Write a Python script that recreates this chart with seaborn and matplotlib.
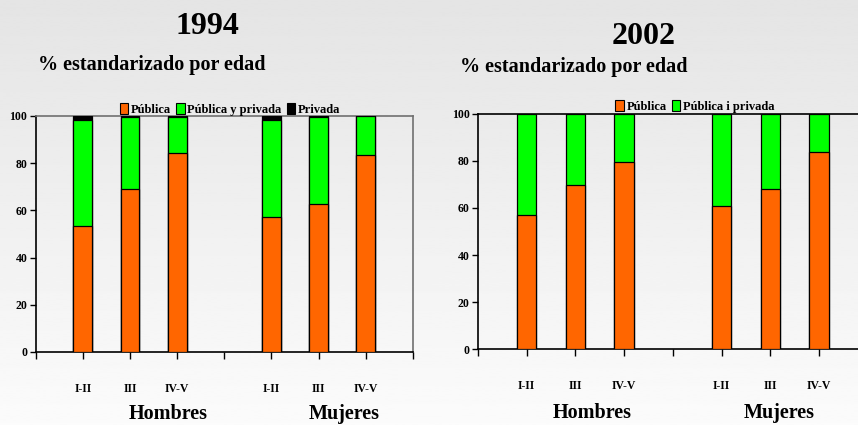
import numpy as np
import pandas as pd
import matplotlib
matplotlib.use("Agg")
import matplotlib.pyplot as plt
from matplotlib.patches import Patch
import seaborn as sns

sns.set_theme(style="white")
plt.rcParams["font.family"] = ["Liberation Serif", "DejaVu Serif"]
plt.rcParams["font.weight"] = "bold"
plt.rcParams["text.color"] = "black"
plt.rcParams["xtick.color"] = "black"
plt.rcParams["ytick.color"] = "black"

# Data: % standardised by age, type of health coverage by social class and sex
groups = ["Hombres", "Mujeres"]
classes = ["I-II", "III", "IV-V"]

pub_1994 = [53.4, 69.1, 84.2, 57.2, 62.6, 83.6]
pubpriv_1994 = [44.9, 30.4, 15.3, 41.1, 36.9, 16.2]
priv_1994 = [1.7, 0.5, 0.5, 1.7, 0.5, 0.2]

pub_2002 = [57.2, 69.8, 79.4, 60.7, 68.1, 83.7]
pubpriv_2002 = [42.8, 30.2, 20.6, 39.3, 31.9, 16.3]

ORANGE = "#ff6600"
GREEN = "#00ff00"
BLACK = "#000000"

# bar slots: three classes per sex, with an empty slot between the sexes
slots = [1, 2, 3, 5, 6, 7]
labels = classes + classes

fig = plt.figure(figsize=(8.58, 4.25), dpi=100)

# soft vertical grey gradient behind everything
bg = fig.add_axes([0, 0, 1, 1], zorder=-10)
grad = np.linspace(0.895, 0.985, 256).reshape(-1, 1)
bg.imshow(grad, aspect="auto", cmap="gray", vmin=0, vmax=1, extent=[0, 1, 0, 1])
bg.set_axis_off()


def stacked(ax, layers, colors):
    """layers: list of value lists, bottom first; drawn as cumulative overlays."""
    cum = np.cumsum(np.array(layers, dtype=float), axis=0)
    for i in range(len(layers) - 1, -1, -1):
        df = pd.DataFrame({"pos": slots, "val": cum[i]})
        sns.barplot(data=df, x="pos", y="val", native_scale=True, width=0.4,
                    color=colors[i], saturation=1, edgecolor="black",
                    linewidth=0.9, ax=ax, zorder=2 + (len(layers) - i))


def style(ax, spine_color):
    ax.set_facecolor("none")
    ax.set_xlim(0, 8)
    ax.set_ylim(0, 100)
    ax.set_xlabel("")
    ax.set_ylabel("")
    ax.set_yticks(range(0, 101, 20))
    ax.set_xticks(range(0, 9))
    ax.set_xticklabels([""] + labels[:3] + [""] + labels[3:] + [""])
    ax.tick_params(axis="x", length=5, width=1, color="black", pad=17,
                   labelsize=8.5, direction="out", bottom=True,
                   labelcolor="black")
    ax.tick_params(axis="y", length=4, width=1, color="black", pad=2,
                   labelsize=8.5, direction="out", left=True,
                   labelcolor="black")
    for s in ("left", "bottom"):
        ax.spines[s].set_color("black")
        ax.spines[s].set_linewidth(1.2)
    for s in ("top", "right"):
        ax.spines[s].set_color(spine_color)
        ax.spines[s].set_linewidth(1.2)
        ax.spines[s].set_visible(True)
    for t in ax.get_xticklabels() + ax.get_yticklabels():
        t.set_fontweight("bold")


leg_kw = dict(loc="lower center", frameon=False, handlelength=0.7,
              handleheight=0.9, handletextpad=0.2, columnspacing=0.4,
              borderaxespad=0.0, borderpad=0.1, labelcolor="black",
              prop={"weight": "bold", "size": 9})

# 1994
ax1 = fig.add_axes([0.0416, 0.1718, 0.4397, 0.5553])
stacked(ax1, [pub_1994, pubpriv_1994, priv_1994], [ORANGE, GREEN, BLACK])
style(ax1, "#707070")
h1 = [Patch(facecolor=ORANGE, edgecolor="black", lw=0.8),
      Patch(facecolor=GREEN, edgecolor="black", lw=0.8),
      Patch(facecolor=BLACK, edgecolor="black", lw=0.8)]
ax1.legend(h1, ["Pública", "Pública y privada", "Privada"], ncol=3,
           bbox_to_anchor=(0.515, 0.995), **leg_kw)

# 2002
ax2 = fig.add_axes([0.557, 0.1788, 0.4545, 0.5530])
stacked(ax2, [pub_2002, pubpriv_2002], [ORANGE, GREEN])
style(ax2, "black")
h2 = [Patch(facecolor=ORANGE, edgecolor="black", lw=0.8),
      Patch(facecolor=GREEN, edgecolor="black", lw=0.8)]
ax2.legend(h2, ["Pública", "Pública i privada"], ncol=2,
           bbox_to_anchor=(0.556, 1.0), **leg_kw)

# titles and subtitles
fig.text(207 / 858, 1 - 27 / 425, "1994", ha="center", va="center",
         fontsize=23, fontweight="bold", color="black")
fig.text(644 / 858, 1 - 36 / 425, "2002", ha="center", va="center",
         fontsize=23, fontweight="bold", color="black")
fig.text(38 / 858, 1 - 65 / 425, "% estandarizado por edad", ha="left",
         va="center", fontsize=14.5, fontweight="bold", color="black")
fig.text(460 / 858, 1 - 67 / 425, "% estandarizado por edad", ha="left",
         va="center", fontsize=14.5, fontweight="bold", color="black")

# sex group labels
for x, g in zip([168, 344], groups):
    fig.text(x / 858, 1 - 414 / 425, g, ha="center", va="center",
             fontsize=14.5, fontweight="bold", color="black")
for x, g in zip([592, 779], groups):
    fig.text(x / 858, 1 - 413 / 425, g, ha="center", va="center",
             fontsize=14.5, fontweight="bold", color="black")

fig.savefig("out.png", dpi=100)
